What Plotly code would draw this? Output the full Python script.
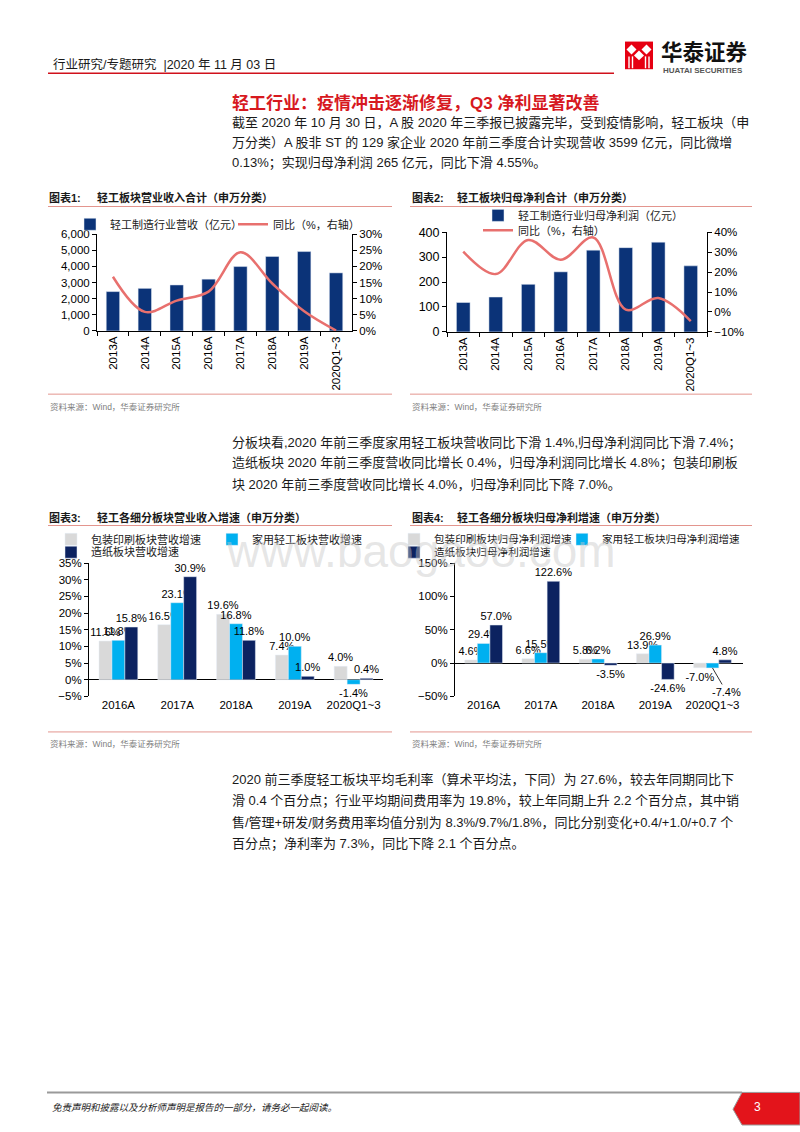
import plotly.graph_objects as go

W, H = 800, 1132


def X(p):
    return p / W


def Y(p):
    return 1 - p / H


# ---------------- data ----------------
years = ["2013A", "2014A", "2015A", "2016A", "2017A", "2018A", "2019A", "2020Q1~3"]
revenue = [2440, 2640, 2850, 3210, 3990, 4620, 4920, 3599]          # 亿元
revenue_yoy = [16.8, 5.9, 9.4, 12.2, 24.4, 14.7, 6.1, 0.13]          # %
profit = [118, 140, 191, 241, 328, 338, 360, 265]                    # 亿元
profit_yoy = [30.3, 19.0, 36.1, 26.2, 37.3, 1.2, 7.0, -4.55]         # %

segments = ["2016A", "2017A", "2018A", "2019A", "2020Q1~3"]
rev_pack = [11.6, 16.5, 19.6, 7.4, 4.0]
rev_home = [11.8, 23.1, 16.8, 10.0, -1.4]
rev_paper = [15.8, 30.9, 11.8, 1.0, 0.4]
np_pack = [4.6, 6.6, 5.8, 13.9, -7.0]
np_home = [29.4, 15.5, 6.2, 26.9, -7.4]
np_paper = [57.0, 122.6, -3.5, -24.6, 4.8]

# ---------------- styles ----------------
NUMF = "Liberation Sans, Arial, Noto Sans CJK SC"
CJK = "Liberation Sans, Noto Sans CJK SC"
NAVY = "#0B3378"
NAVY2 = "#0C2260"
LBLUE = "#00B0F0"
GRAY = "#D9D9D9"
LINE_RED = "#E8706E"
RULE = "#E3958E"
TXT = "#1a1a1a"

fig = go.Figure()

# ---- chart 1 ----
fig.add_trace(go.Bar(x=years, y=revenue, name="轻工制造行业营收（亿元）", marker_color=NAVY,
                     width=0.42, xaxis="x", yaxis="y", legend="legend"))
fig.add_trace(go.Scatter(x=years, y=revenue_yoy, name="同比（%，右轴）", mode="lines",
                         line=dict(color=LINE_RED, width=2.5, shape="spline", smoothing=1.0),
                         xaxis="x", yaxis="y2", legend="legend"))

# ---- chart 2 ----
fig.add_trace(go.Bar(x=years, y=profit, name="轻工制造行业归母净利润（亿元）", marker_color=NAVY,
                     width=0.42, xaxis="x2", yaxis="y3", legend="legend2"))
fig.add_trace(go.Scatter(x=years, y=profit_yoy, name="同比（%，右轴）", mode="lines",
                         line=dict(color=LINE_RED, width=2.5, shape="spline", smoothing=1.0),
                         xaxis="x2", yaxis="y4", legend="legend7"))


def pct(vals):
    return [f"{v:.1f}%" for v in vals]


bar_txt = dict(textposition="outside", cliponaxis=False, constraintext="none",
               textfont=dict(family=NUMF, size=11, color="black"))

# ---- chart 3 ----
fig.add_trace(go.Bar(x=segments, y=rev_pack, name="包装印刷板块营收增速", marker_color=GRAY,
                     text=pct(rev_pack), xaxis="x3", yaxis="y5", legend="legend3", **bar_txt))
fig.add_trace(go.Bar(x=segments, y=rev_home, name="家用轻工板块营收增速", marker_color=LBLUE,
                     text=pct(rev_home), xaxis="x3", yaxis="y5", legend="legend8", **bar_txt))
fig.add_trace(go.Bar(x=segments, y=rev_paper, name="造纸板块营收增速", marker_color=NAVY2,
                     text=pct(rev_paper), xaxis="x3", yaxis="y5", legend="legend4", **bar_txt))

# ---- chart 4 ----
home_txt = pct(np_home)
home_txt[-1] = ""
fig.add_trace(go.Bar(x=segments, y=np_pack, name="包装印刷板块归母净利润增速", marker_color=GRAY,
                     text=pct(np_pack), xaxis="x4", yaxis="y6", legend="legend5", **bar_txt))
fig.add_trace(go.Bar(x=segments, y=np_home, name="家用轻工板块归母净利润增速", marker_color=LBLUE,
                     text=home_txt, xaxis="x4", yaxis="y6", legend="legend9", **bar_txt))
fig.add_trace(go.Bar(x=segments, y=np_paper, name="造纸板块归母净利润增速", marker_color=NAVY2,
                     text=pct(np_paper), xaxis="x4", yaxis="y6", legend="legend6", **bar_txt))

# ---------------- axes ----------------
tickf = dict(family=NUMF, size=11.5, color="black")
ax_line = dict(showline=True, linecolor="black", linewidth=1, showgrid=False, zeroline=False,
               ticks="outside", ticklen=4, tickcolor="black", tickfont=tickf)

cat_rot = dict(type="category", tickangle=-90, tickson="boundaries", **ax_line)
cat_flat = dict(type="category", showline=False, showgrid=False, zeroline=False, ticks="",
                tickfont=dict(family=NUMF, size=11.5, color="black"))

layout_axes = dict(
    xaxis=dict(domain=[X(97), X(352)], anchor="y", **cat_rot),
    yaxis=dict(domain=[Y(328), Y(230)], anchor="x", range=[0, 6000], dtick=1000,
               tickformat=",", **ax_line),
    yaxis2=dict(overlaying="y", side="right", anchor="x", range=[0, 30], dtick=5,
                ticksuffix="%", **ax_line),
    xaxis2=dict(domain=[X(447), X(707)], anchor="y3", **cat_rot),
    yaxis3=dict(domain=[Y(329), Y(228)], anchor="x2", range=[0, 400], dtick=100,
                **{**ax_line, "tickfont": dict(family=NUMF, size=12.5, color="black")}),
    yaxis4=dict(overlaying="y3", side="right", anchor="x2", range=[-10, 40], dtick=10,
                ticksuffix="%", **ax_line),
    xaxis3=dict(domain=[X(89), X(383)], anchor="y5", **cat_flat),
    yaxis5=dict(domain=[Y(698), Y(563)], anchor="x3", range=[-5, 35], dtick=5,
                ticksuffix="%", **{**ax_line, "zeroline": True, "zerolinecolor": "black",
                                   "zerolinewidth": 1}),
    xaxis4=dict(domain=[X(455), X(743)], anchor="y6", **cat_flat),
    yaxis6=dict(domain=[Y(698), Y(563)], anchor="x4", range=[-50, 150], dtick=50,
                ticksuffix="%", **{**ax_line, "zeroline": True, "zerolinecolor": "black",
                                   "zerolinewidth": 1}),
)


def leg(x, y, size=11, **kw):
    return dict(x=X(x), y=Y(y), xanchor="left", yanchor="middle", orientation="h",
                font=dict(family=CJK, size=size, color=TXT), bgcolor="rgba(0,0,0,0)",
                borderwidth=0, itemclick=False, itemdoubleclick=False, tracegroupgap=0, **kw)


legends = dict(
    legend=leg(70, 220, entrywidth=118),
    legend2=leg(478, 211),
    legend7=leg(478, 226),
    legend3=leg(51, 539),
    legend8=leg(212, 539),
    legend4=leg(51, 552),
    legend5=leg(394, 539, size=10.6),
    legend9=leg(562, 539, size=10.6),
    legend6=leg(394, 552, size=10.6),
)

# ---------------- page text ----------------
ann = []


def text(x, y, s, size=13, color=TXT, weight="normal", family=CJK, anchor="left", style="normal"):
    ann.append(dict(x=X(x), y=Y(y), xref="paper", yref="paper", text=s, showarrow=False,
                    xanchor=anchor, yanchor="middle",
                    font=dict(family=family, size=size, color=color, weight=weight, style=style)))


# watermark
ann.append(dict(x=X(421), y=Y(551), xref="paper", yref="paper", text="www.baogao8.com",
                showarrow=False, xanchor="center", yanchor="middle",
                font=dict(family=NUMF, size=46, color="rgba(200,200,200,0.45)")))

text(51, 58, "行业研究/专题研究  |2020 年 11 月 03 日", size=12.5)
text(659, 47, "华泰证券", size=21.5, weight="bold", color="#111")
text(661, 64, "HUATAI SECURITIES", size=8, weight="bold", color="#555", family=NUMF)

text(230, 97, "轻工行业：疫情冲击逐渐修复，Q3 净利显著改善", size=17, weight="bold", color="#D7191F")
p1 = ["截至 2020 年 10 月 30 日，A 股 2020 年三季报已披露完毕，受到疫情影响，轻工板块（申",
      "万分类）A 股非 ST 的 129 家企业 2020 年前三季度合计实现营收 3599 亿元，同比微增",
      "0.13%；实现归母净利润 265 亿元，同比下滑 4.55%。"]
for i, s in enumerate(p1):
    text(230, 117 + 20.5 * i, s, size=13)

text(47, 193, "图表1:", size=11, weight="bold")
text(95, 193, "轻工板块营业收入合计（申万分类）", size=11, weight="bold")
text(410, 193, "图表2:", size=11, weight="bold")
text(455, 193, "轻工板块归母净利合计（申万分类）", size=11, weight="bold")
text(48, 405, "资料来源：Wind，华泰证券研究所", size=8.5, color="#808080")
text(410, 405, "资料来源：Wind，华泰证券研究所", size=8.5, color="#808080")

p2 = ["分板块看,2020 年前三季度家用轻工板块营收同比下滑 1.4%,归母净利润同比下滑 7.4%；",
      "造纸板块 2020 年前三季度营收同比增长 0.4%，归母净利润同比增长 4.8%；包装印刷板",
      "块 2020 年前三季度营收同比增长 4.0%，归母净利同比下降 7.0%。"]
for i, s in enumerate(p2):
    text(230, 441 + 21 * i, s, size=13)

text(47, 517, "图表3:", size=11, weight="bold")
text(95, 517, "轻工各细分板块营业收入增速（申万分类）", size=11, weight="bold")
text(410, 517, "图表4:", size=11, weight="bold")
text(455, 517, "轻工各细分板块归母净利增速（申万分类）", size=11, weight="bold")
text(48, 746, "资料来源：Wind，华泰证券研究所", size=8.5, color="#808080")
text(410, 746, "资料来源：Wind，华泰证券研究所", size=8.5, color="#808080")

p3 = ["2020 前三季度轻工板块平均毛利率（算术平均法，下同）为 27.6%，较去年同期同比下",
      "滑 0.4 个百分点；行业平均期间费用率为 19.8%，较上年同期上升 2.2 个百分点，其中销",
      "售/管理+研发/财务费用率均值分别为 8.3%/9.7%/1.8%，同比分别变化+0.4/+1.0/+0.7 个",
      "百分点；净利率为 7.3%，同比下降 2.1 个百分点。"]
for i, s in enumerate(p3):
    text(230, 782 + 21.7 * i, s, size=13)

text(50, 1114, "免责声明和披露以及分析师声明是报告的一部分，请务必一起阅读。", size=9.5, style="italic")
text(752, 1114, "3", size=12, color="white", family=NUMF)

# label with leader line for the crowded 2020Q1~3 bar in chart 4
ann.append(dict(x=segments[-1], y=np_home[-1], xref="x4", yref="y6", text=pct(np_home)[-1],
                showarrow=True, arrowhead=0, arrowwidth=0.8, arrowcolor="black",
                ax=14, ay=24, standoff=0, font=dict(family=NUMF, size=11, color="black")))

# ---------------- shapes ----------------
shapes = []


def hline(x0, x1, y, color, width=1):
    shapes.append(dict(type="line", xref="paper", yref="paper", x0=X(x0), x1=X(x1), y0=Y(y), y1=Y(y),
                       line=dict(color=color, width=width)))


hline(48, 614, 67, "#D0101B", 1.5)
for yy in (202, 392):
    hline(48, 392, yy, RULE)
    hline(410, 752, yy, RULE)
for yy in (525, 734):
    hline(48, 392, yy, RULE)
    hline(410, 752, yy, RULE)
hline(47, 742, 1099, "#9A9A9A", 2)

# logo icon
shapes.append(dict(type="rect", xref="paper", yref="paper", x0=X(625), x1=X(653), y0=Y(63), y1=Y(35),
                   fillcolor="#E60012", line=dict(width=0)))


def P(x, y):
    return f"{X(x)},{Y(y)}"


for cx, cy in ((631.5, 43), (646.5, 43), (639, 49)):
    shapes.append(dict(type="path", xref="paper", yref="paper",
                       path=f"M{P(cx, cy - 5)} L{P(cx + 5, cy)} L{P(cx, cy + 5)} L{P(cx - 5, cy)} Z",
                       fillcolor="white", line=dict(width=0)))
for vx in (629, 632.5, 645.5, 649):
    shapes.append(dict(type="line", xref="paper", yref="paper", x0=X(vx), x1=X(vx), y0=Y(50), y1=Y(62),
                       line=dict(color="white", width=1.4)))

# page-number tab
shapes.append(dict(type="path", xref="paper", yref="paper",
                   path=f"M{P(742, 1099)} L{P(800, 1099)} L{P(800, 1132)} L{P(742, 1132)} L{P(733, 1116)} Z",
                   fillcolor="#E3141B", line=dict(color="#9A9A9A", width=1)))

fig.update_layout(
    width=W, height=H, margin=dict(l=0, r=0, t=0, b=0),
    paper_bgcolor="white", plot_bgcolor="white",
    barmode="group", bargap=0.34, bargroupgap=0,
    annotations=ann, shapes=shapes,
    font=dict(family=CJK, color=TXT),
    **layout_axes, **legends,
)

fig.write_html("out.html", config={"displayModeBar": False},
               post_script="document.body.style.margin='0px';document.body.style.overflow='hidden';")
